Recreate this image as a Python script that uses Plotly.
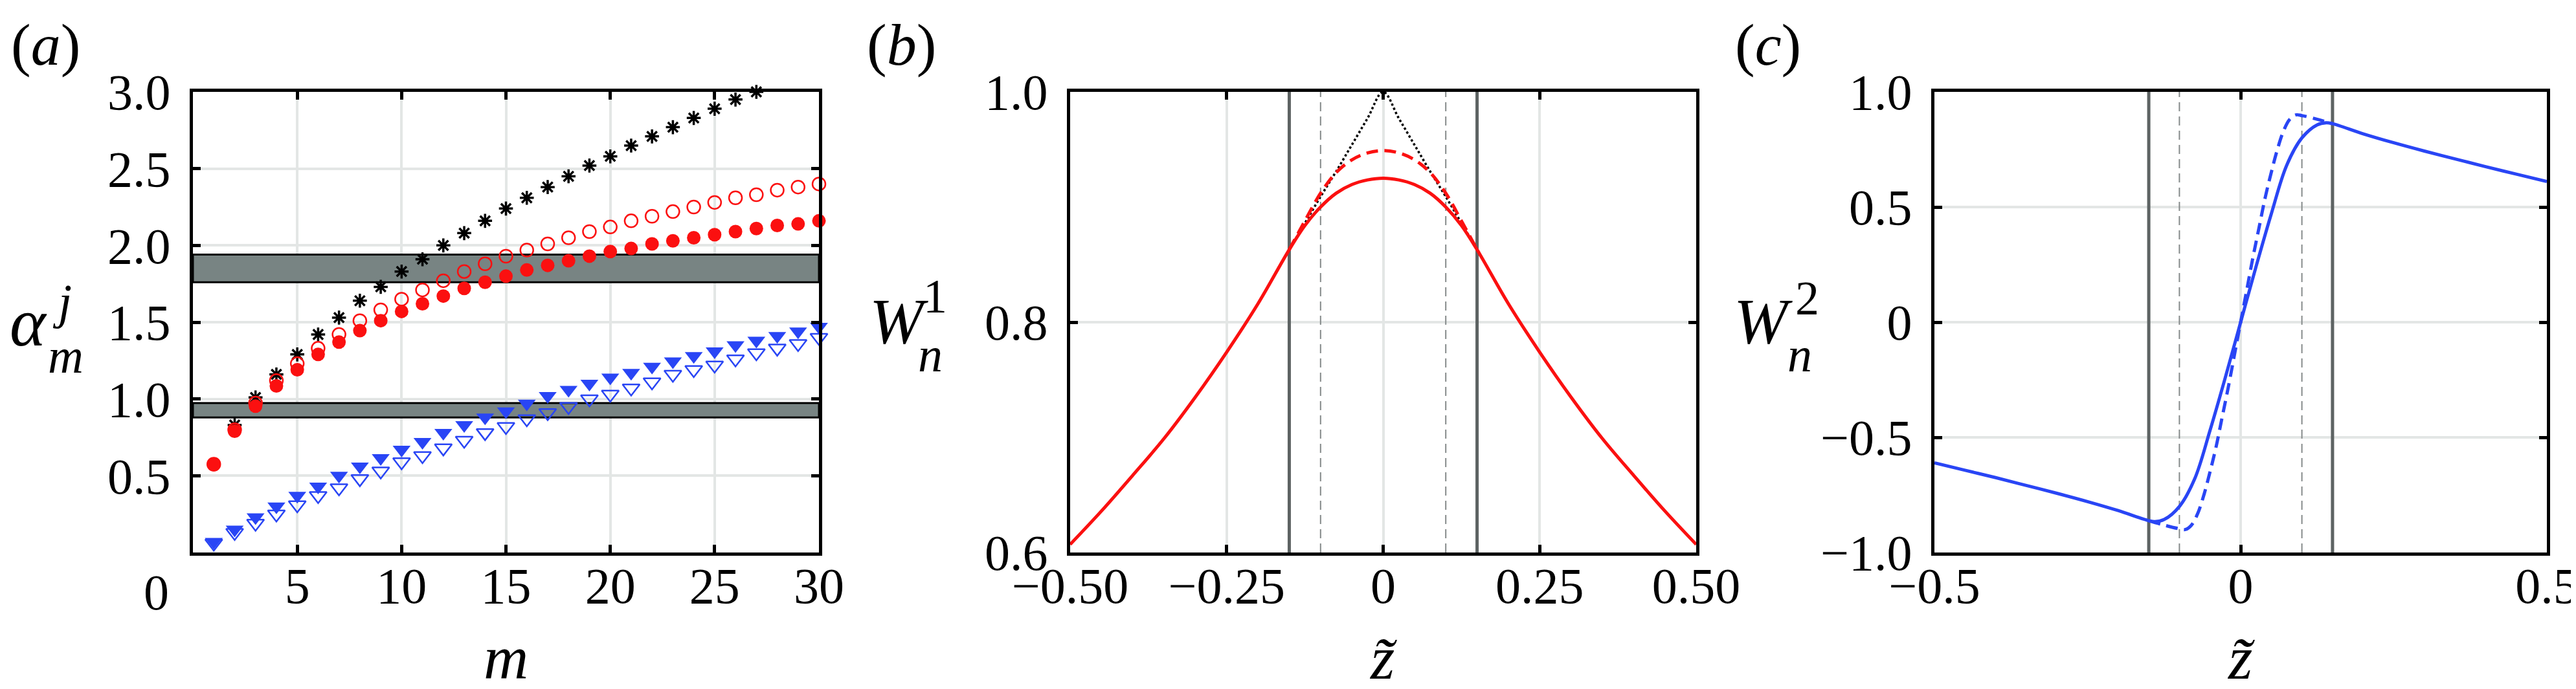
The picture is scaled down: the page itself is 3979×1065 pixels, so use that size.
import plotly.graph_objects as go

# ---------------- data: panel (a) ----------------
m_all = list(range(1, 31))
m_star = list(range(2, 28))
alpha_star = [0.83, 1.01, 1.16, 1.29, 1.42, 1.53, 1.64, 1.73, 1.83, 1.91, 2.00, 2.08, 2.16,
              2.24, 2.31, 2.38, 2.45, 2.52, 2.58, 2.65, 2.71, 2.77, 2.83, 2.89, 2.95, 3.00]
alpha_red_open = [0.575, 0.80, 0.973, 1.12, 1.23, 1.33, 1.42, 1.51, 1.58, 1.65, 1.71, 1.77,
                  1.83, 1.88, 1.93, 1.97, 2.01, 2.05, 2.09, 2.12, 2.16, 2.19, 2.22, 2.25,
                  2.28, 2.31, 2.33, 2.36, 2.38, 2.40]
alpha_red_fill = [0.572, 0.79, 0.953, 1.085, 1.19, 1.29, 1.37, 1.445, 1.51, 1.57, 1.62, 1.67,
                  1.72, 1.76, 1.80, 1.84, 1.87, 1.90, 1.93, 1.96, 1.98, 2.01, 2.03, 2.05,
                  2.07, 2.09, 2.11, 2.13, 2.14, 2.16]
alpha_blue_fill = [0.07, 0.15, 0.23, 0.30, 0.37, 0.43, 0.50, 0.56, 0.615, 0.67, 0.72, 0.78,
                   0.83, 0.88, 0.92, 0.97, 1.02, 1.06, 1.10, 1.14, 1.17, 1.21, 1.245, 1.28,
                   1.31, 1.35, 1.38, 1.41, 1.44, 1.47]
alpha_blue_open = [0.06, 0.13, 0.19, 0.25, 0.31, 0.37, 0.42, 0.48, 0.53, 0.59, 0.63, 0.68,
                   0.73, 0.78, 0.82, 0.87, 0.91, 0.95, 1.00, 1.03, 1.07, 1.11, 1.16, 1.19,
                   1.22, 1.26, 1.30, 1.33, 1.36, 1.40]
band_low = [1.76, 0.88]
band_high = [1.94, 0.973]
m_range = [0, 30]

# ---------------- data: panel (b) ----------------
zb_full = [-0.5, -0.45, -0.4, -0.35, -0.3, -0.25, -0.2, -0.15, -0.125, -0.1, -0.075, -0.05,
           -0.025, 0.0, 0.025, 0.05, 0.075, 0.1, 0.125, 0.15, 0.2, 0.25, 0.3, 0.35, 0.4,
           0.45, 0.5]
W1_solid = [0.607, 0.636, 0.667, 0.699, 0.735, 0.774, 0.816, 0.863, 0.884, 0.900, 0.912,
            0.9195, 0.9235, 0.925, 0.9235, 0.9195, 0.912, 0.900, 0.884, 0.863, 0.816,
            0.774, 0.735, 0.699, 0.667, 0.636, 0.607]
zb_in = [-0.15, -0.125, -0.1, -0.075, -0.05, -0.025, 0.0, 0.025, 0.05, 0.075, 0.1, 0.125, 0.15]
W1_dashed = [0.863, 0.888, 0.912, 0.930, 0.941, 0.947, 0.949, 0.947, 0.941, 0.930, 0.912,
             0.888, 0.863]
W1_dotted = [0.863, 0.886, 0.909, 0.931, 0.954, 0.977, 1.000, 0.977, 0.954, 0.931, 0.909,
             0.886, 0.863]

# ---------------- data: panel (c) ----------------
zc_full = [-0.5, -0.45, -0.4, -0.35, -0.3, -0.25, -0.2, -0.15, -0.14, -0.125, -0.1, -0.075,
           -0.05, -0.025, 0.0, 0.025, 0.05, 0.075, 0.1, 0.125, 0.14, 0.15, 0.2, 0.25, 0.3,
           0.35, 0.4, 0.45, 0.5]
W2_solid = [-0.611, -0.643, -0.675, -0.709, -0.743, -0.779, -0.818, -0.862, -0.866, -0.857,
            -0.80, -0.68, -0.47, -0.24, 0.0, 0.24, 0.47, 0.68, 0.80, 0.857, 0.866, 0.862,
            0.818, 0.779, 0.743, 0.709, 0.675, 0.643, 0.611]
zc_in = [-0.15, -0.125, -0.1, -0.09, -0.08, -0.07, -0.06, -0.05, -0.04, -0.03, -0.02, -0.01,
         0.0, 0.01, 0.02, 0.03, 0.04, 0.05, 0.06, 0.07, 0.08, 0.09, 0.1, 0.125, 0.15]
W2_dashed = [-0.862, -0.881, -0.897, -0.900, -0.880, -0.830, -0.750, -0.650, -0.540, -0.410,
             -0.280, -0.140, 0.0, 0.140, 0.280, 0.410, 0.540, 0.650, 0.750, 0.830, 0.880,
             0.900, 0.897, 0.881, 0.862]

z_solid_lines = [-0.15, 0.15]
z_dashed_lines = [-0.1, 0.1]
W1_range = [0.6, 1.0]
W2_range = [-1.0, 1.0]

# ---------------- styling ----------------
W, H = 3979, 1065
FONT = "Liberation Serif"
RED = "#fb1010"
BLUE = "#2945f5"
GRID = "#e3e6e5"
TICKSIZE = 78


def px(x):
    return x / W


def py(y):
    return 1 - y / H


dom_a = [px(290), px(1257)]
dom_b = [px(1645), px(2612)]
dom_c = [px(2980), px(3926)]
dom_y = [py(846), py(134)]

fig = go.Figure()

# grey bands of panel (a)
for lo, hi in zip(band_low, band_high):
    fig.add_trace(go.Scatter(x=[m_range[0], m_range[1], m_range[1], m_range[0], m_range[0]],
                             y=[lo, lo, hi, hi, lo], mode="lines", fill="toself",
                             fillcolor="#788483", line=dict(color="black", width=3),
                             xaxis="x", yaxis="y", hoverinfo="skip"))

# markers of panel (a)
fig.add_trace(go.Scatter(x=m_all, y=alpha_blue_open, mode="markers", xaxis="x", yaxis="y",
                         marker=dict(symbol="triangle-down-open", size=23, color=BLUE,
                                     line=dict(width=2.5, color=BLUE)), cliponaxis=False))
fig.add_trace(go.Scatter(x=m_all, y=alpha_blue_fill, mode="markers", xaxis="x", yaxis="y",
                         marker=dict(symbol="triangle-down", size=24, color=BLUE,
                                     line=dict(width=0)), cliponaxis=False))
fig.add_trace(go.Scatter(x=m_star, y=alpha_star, mode="markers", xaxis="x", yaxis="y",
                         marker=dict(symbol="asterisk-open", size=18, color="black",
                                     line=dict(width=3.5, color="black")), cliponaxis=False))
fig.add_trace(go.Scatter(x=m_all, y=alpha_red_open, mode="markers", xaxis="x", yaxis="y",
                         marker=dict(symbol="circle-open", size=20, color=RED,
                                     line=dict(width=2.5, color=RED)), cliponaxis=False))
fig.add_trace(go.Scatter(x=m_all, y=alpha_red_fill, mode="markers", xaxis="x", yaxis="y",
                         marker=dict(symbol="circle", size=21, color=RED, line=dict(width=0)),
                         cliponaxis=False))

# vertical reference lines in (b) and (c)
for xa, ya, rng in [("x2", "y2", W1_range), ("x3", "y3", W2_range)]:
    for zv in z_solid_lines:
        fig.add_trace(go.Scatter(x=[zv, zv], y=rng, mode="lines", xaxis=xa, yaxis=ya,
                                 line=dict(color="#5d6363", width=5), hoverinfo="skip"))
    for zv in z_dashed_lines:
        fig.add_trace(go.Scatter(x=[zv, zv], y=rng, mode="lines", xaxis=xa, yaxis=ya,
                                 line=dict(color="#858a8a", width=2, dash="14px,8px"),
                                 hoverinfo="skip"))

# curves of panel (b)
fig.add_trace(go.Scatter(x=zb_in, y=W1_dotted, mode="lines", xaxis="x2", yaxis="y2",
                         line=dict(color="black", width=3.5, dash="dot", shape="spline")))
fig.add_trace(go.Scatter(x=zb_in, y=W1_dashed, mode="lines", xaxis="x2", yaxis="y2",
                         line=dict(color=RED, width=5, dash="18px,10px", shape="spline")))
fig.add_trace(go.Scatter(x=zb_full, y=W1_solid, mode="lines", xaxis="x2", yaxis="y2",
                         line=dict(color=RED, width=5, shape="spline")))

# curves of panel (c)
fig.add_trace(go.Scatter(x=zc_in, y=W2_dashed, mode="lines", xaxis="x3", yaxis="y3",
                         line=dict(color=BLUE, width=5, dash="18px,10px", shape="spline")))
fig.add_trace(go.Scatter(x=zc_full, y=W2_solid, mode="lines", xaxis="x3", yaxis="y3",
                         line=dict(color=BLUE, width=5, shape="spline")))


def axstyle(xaxis):
    return dict(showline=True, linecolor="black", linewidth=5, mirror="ticks", ticks="inside",
                ticklen=12, tickwidth=5, tickcolor="black", showgrid=True, gridcolor=GRID,
                gridwidth=4, zeroline=False, automargin=False,
                ticklabelstandoff=(-21 if xaxis else 14),
                tickfont=dict(family=FONT, size=TICKSIZE, color="black"))


fig.update_layout(
    width=W, height=H, autosize=False, margin=dict(l=0, r=0, t=0, b=0, pad=0),
    paper_bgcolor="white", plot_bgcolor="white", showlegend=False,
    font=dict(family=FONT, color="black"),
    xaxis=dict(domain=dom_a, range=m_range, tickvals=[5, 10, 15, 20, 25, 30],
               ticktext=["5", "10", "15", "20", "25", "30"], anchor="y", **axstyle(True)),
    yaxis=dict(domain=dom_y, range=[0, 3], tickvals=[0.5, 1, 1.5, 2, 2.5, 3],
               ticktext=["0.5", "1.0", "1.5", "2.0", "2.5", "3.0"], anchor="x",
               **axstyle(False)),
    xaxis2=dict(domain=dom_b, range=[-0.5, 0.5], tickvals=[-0.5, -0.25, 0, 0.25, 0.5],
                ticktext=["\u22120.50", "\u22120.25", "0", "0.25", "0.50"], anchor="y2",
                **axstyle(True)),
    yaxis2=dict(domain=dom_y, range=W1_range, tickvals=[0.6, 0.8, 1.0],
                ticktext=["0.6", "0.8", "1.0"], anchor="x2", **axstyle(False)),
    xaxis3=dict(domain=dom_c, range=[-0.5, 0.5], tickvals=[-0.5, 0, 0.5],
                ticktext=["\u22120.5", "0", "0.5"], anchor="y3", **axstyle(True)),
    yaxis3=dict(domain=dom_y, range=W2_range, tickvals=[-1, -0.5, 0, 0.5, 1],
                ticktext=["\u22121.0", "\u22120.5", "0", "0.5", "1.0"], anchor="x3",
                **axstyle(False)),
)


def ann(text, x, y, size, xanchor="center", yanchor="middle"):
    return dict(text=text, x=px(x), y=py(y), xref="paper", yref="paper", showarrow=False,
                xanchor=xanchor, yanchor=yanchor, font=dict(family=FONT, size=size, color="black"))


annotations = [
    ann("(<i>a</i>)", 62, 61, 92),
    ann("(<i>b</i>)", 1384, 61, 92),
    ann("(<i>c</i>)", 2723, 61, 92),
    ann("0", 255, 907, TICKSIZE, xanchor="right"),
    ann("<i>m</i>", 773, 1064, 96, yanchor="bottom"),
    ann("<i>z\u0303</i>", 2128, 1064, 96, yanchor="bottom"),
    ann("<i>z\u0303</i>", 3453, 1064, 96, yanchor="bottom"),
    ann("<i>\u03b1</i>", 36, 490, 106),
    ann("<i>j</i>", 88, 458, 76),
    ann("<i>m</i>", 93, 542, 76),
    ann("<i>W</i>", 1380, 488, 100),
    ann("1", 1436, 450, 74),
    ann("<i>n</i>", 1429, 540, 76),
    ann("<i>W</i>", 2715, 488, 100),
    ann("2", 2783, 453, 74),
    ann("<i>n</i>", 2772, 540, 76),
]
fig.update_layout(annotations=annotations)

fig.write_html("out.html")
